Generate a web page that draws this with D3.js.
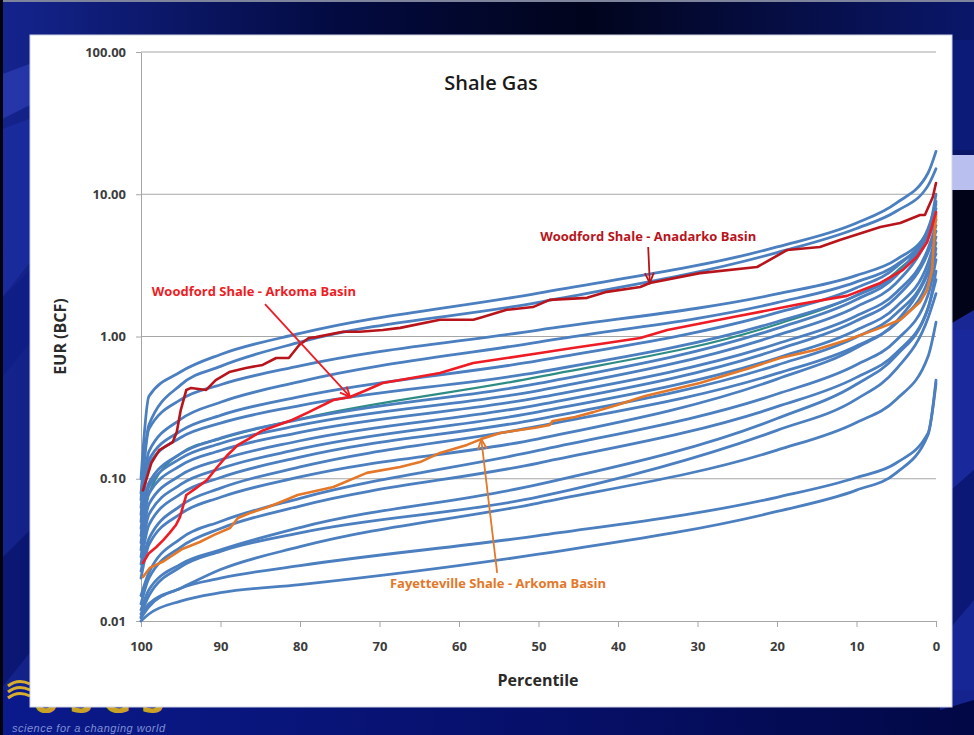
<!DOCTYPE html>
<html>
<head>
<meta charset="utf-8">
<script src="https://cdn.jsdelivr.net/npm/d3@7"></script>
<style>
  html, body { margin: 0; padding: 0; background: #050f55; }
  svg { display: block; }
</style>
</head>
<body>
<svg id="chart" width="974" height="735"></svg>
<script>
// ---- Data -----------------------------------------------------------------
// Exceedance percentile at which each modelled EUR curve is sampled
const pctGrid = [100, 99, 95, 90, 80, 50, 20, 10, 5, 1, 0];

// Modelled shale-gas plays, EUR (BCF) at each percentile of pctGrid
const blueSeries = [
  [0.1,    0.38,   0.565,  0.748,  1.05,   2.02,   4.26,   6.28,  8.67,  14.1,  20],
  [0.079,  0.24,   0.457,  0.617,  0.912,  1.74,   3.89,   5.75,  7.59,  11.5,  15.1],
  [0.071,  0.224,  0.36,   0.458,  0.621,  1.11,   1.99,   2.69,  3.47,  5.5,   10],
  [0.063,  0.156,  0.262,  0.345,  0.482,  0.914,  1.73,   2.42,  3.19,  5.36,  8.91],
  [0.056,  0.136,  0.217,  0.279,  0.378,  0.676,  1.47,   2.20,  3.08,  5.75,  8.51],
  [0.05,   0.126,  0.195,  0.246,  0.327,  0.562,  1.27,   1.94,  2.76,  5.33,  7.94],
  [0.0447, 0.0938, 0.15,   0.193,  0.261,  0.468,  1.14,   1.82,  2.67,  5.5,   7.24],
  [0.0398, 0.0881, 0.139,  0.177,  0.238,  0.417,  1.02,   1.62,  2.38,  4.9,   6.61],
  [0.0355, 0.0785, 0.124,  0.158,  0.212,  0.372,  0.889,  1.40,  2.04,  4.14,  6.03],
  [0.0316, 0.0664, 0.106,  0.136,  0.185,  0.331,  0.807,  1.29,  1.89,  3.89,  5.5],
  [0.0282, 0.0561, 0.0912, 0.118,  0.162,  0.295,  0.706,  1.11,  1.62,  3.29,  5.01],
  [0.0251, 0.0474, 0.0783, 0.102,  0.142,  0.263,  0.63,   0.993, 1.45,  2.93,  4.57],
  [0.0224, 0.0379, 0.0647, 0.0859, 0.121,  0.234,  0.55,   0.859, 1.24,  2.47,  4.17],
  [0.02,   0.0344, 0.0568, 0.0741, 0.103,  0.191,  0.502,  0.834, 1.27,  2.77,  3.8],
  [0.0151, 0.0219, 0.038,  0.0501, 0.0729, 0.158,  0.394,  0.634, 0.94,  1.96,  3.47],
  [0.0132, 0.02,   0.0331, 0.0447, 0.0643, 0.129,  0.321,  0.516, 0.766, 1.58,  2.88],
  [0.012,  0.0166, 0.0251, 0.0316, 0.0454, 0.0912, 0.265,  0.462, 0.733, 1.58,  2.51],
  [0.0112, 0.0151, 0.024,  0.0309, 0.0417, 0.0745, 0.219,  0.363, 0.589, 1.35,  2.0],
  [0.0107, 0.0132, 0.017,  0.023,  0.0333, 0.0675, 0.159,  0.249, 0.361, 0.723, 1.26],
  [0.0105, 0.0126, 0.017,  0.02,   0.0245, 0.0398, 0.0741, 0.102, 0.129, 0.209, 0.494],
  [0.01,   0.0112, 0.0138, 0.0158, 0.018,  0.0295, 0.0589, 0.0832, 0.11, 0.204, 0.468]
];
const tealSeries = [0.04, 0.079, 0.151, 0.191, 0.263, 0.52, 1.22, 1.95, 2.85, 5.5, 8.7];

// Observed well populations
const anadarkoPct = [99.75, 98.7, 97.7, 96.0, 95.5, 95.0, 94.3, 93.7, 91.8, 90.6, 88.9, 86.8, 84.7, 83.0, 81.4, 80.1, 78.9, 78.0, 74.6, 72.5, 69.6, 67.4, 62.4, 58.2, 57.0, 54.0, 50.7, 48.6, 43.9, 41.4, 37.2, 36.0, 29.7, 22.5, 18.7, 14.6, 12.1, 7.0, 4.5, 2.0, 1.4, 0.4, 0];
const anadarkoEur = [0.083, 0.129, 0.159, 0.181, 0.213, 0.304, 0.421, 0.435, 0.421, 0.494, 0.562, 0.601, 0.631, 0.706, 0.706, 0.871, 0.975, 0.99, 1.08, 1.08, 1.11, 1.15, 1.31, 1.31, 1.37, 1.54, 1.61, 1.81, 1.87, 2.06, 2.23, 2.38, 2.79, 3.08, 4.06, 4.26, 4.77, 5.88, 6.28, 7.15, 7.15, 9.57, 12.0];

const arkomaPct = [99.75, 99.0, 98.1, 97.2, 96.4, 95.6, 95.1, 94.3, 93.2, 91.7, 90.4, 89.1, 87.8, 86.5, 84.8, 83.1, 81.0, 78.9, 75.8, 73.7, 71.6, 69.6, 67.4, 62.4, 58.2, 54.0, 49.8, 45.7, 41.4, 37.2, 33.8, 25.5, 17.1, 11.2, 7.0, 4.2, 2.4, 1.1, 0.5, 0];
const arkomaEur = [0.0256, 0.030, 0.033, 0.037, 0.0416, 0.0473, 0.0538, 0.0769, 0.0848, 0.098, 0.121, 0.147, 0.173, 0.190, 0.217, 0.235, 0.259, 0.294, 0.358, 0.376, 0.421, 0.471, 0.494, 0.554, 0.652, 0.706, 0.766, 0.830, 0.900, 0.976, 1.11, 1.37, 1.69, 1.93, 2.38, 2.93, 3.62, 4.62, 5.98, 7.50];

const fayPct = [99.75, 98.9, 97.1, 94.8, 92.6, 90.8, 88.8, 87.8, 86.3, 84.0, 82.1, 80.3, 75.8, 71.6, 67.4, 64.9, 62.4, 59.0, 57.2, 54.8, 50.4, 48.6, 48.2, 45.4, 43.1, 40.1, 36.6, 29.7, 23.4, 19.6, 15.2, 11.2, 7.0, 4.5, 2.0, 1.1, 0.5, 0.25, 0];
const fayEur = [0.0204, 0.0236, 0.0264, 0.0321, 0.0359, 0.0403, 0.0451, 0.0530, 0.0574, 0.0633, 0.0698, 0.0769, 0.0875, 0.110, 0.121, 0.131, 0.152, 0.173, 0.190, 0.210, 0.228, 0.239, 0.255, 0.272, 0.294, 0.330, 0.382, 0.471, 0.601, 0.706, 0.803, 0.945, 1.15, 1.31, 1.75, 2.13, 2.93, 4.77, 7.03];

const xTicks = [100, 90, 80, 70, 60, 50, 40, 30, 20, 10, 0];
const yTicks = [0.01, 0.1, 1, 10, 100];

// Callouts: label anchor, arrow start and arrow tip in data units
const callouts = [
  { text: "Woodford Shale - Anadarko Basin", color: "#b8141c",
    label: [36.2, 5.09], from: [36.2, 4.26], to: [36.0, 2.38] },
  { text: "Woodford Shale - Arkoma Basin", color: "#ee1c24",
    label: [85.8, 2.09], from: [84.4, 1.69], to: [73.7, 0.376] },
  { text: "Fayetteville Shale - Arkoma Basin", color: "#e3782a",
    label: [55.1, 0.0185], from: [55.2, 0.0218], to: [57.2, 0.190] }
];

// ---- Slide backdrop ---------------------------------------------------------
const svg = d3.select("#chart");
const defs = svg.append("defs");
const bgGrad = defs.append("linearGradient").attr("id", "bg").attr("x1", 0).attr("x2", 1).attr("y1", 0).attr("y2", 0);
bgGrad.append("stop").attr("offset", "0%").attr("stop-color", "#14248e");
bgGrad.append("stop").attr("offset", "35%").attr("stop-color", "#030a40");
bgGrad.append("stop").attr("offset", "60%").attr("stop-color", "#01041c");
bgGrad.append("stop").attr("offset", "100%").attr("stop-color", "#0a176a");
svg.append("rect").attr("width", 974).attr("height", 735).attr("fill", "url(#bg)");

const botGrad = defs.append("linearGradient").attr("id", "bot").attr("x1", 0).attr("x2", 1).attr("y1", 0).attr("y2", 0);
botGrad.append("stop").attr("offset", "0%").attr("stop-color", "#0b1a8c");
botGrad.append("stop").attr("offset", "55%").attr("stop-color", "#06106a");
botGrad.append("stop").attr("offset", "100%").attr("stop-color", "#020845");
svg.append("rect").attr("y", 690).attr("width", 974).attr("height", 45).attr("fill", "url(#bot)");

// diagonal bands peeking out on both sides of the panel
const bands = svg.append("g");
[
  { pts: [[0, 75], [40, 60], [40, 100], [0, 120]], fill: "#2b3bb0", op: 0.8 },
  { pts: [[0, 130], [40, 115], [40, 250], [0, 300]], fill: "#1c2da0", op: 0.8 },
  { pts: [[0, 300], [40, 260], [40, 330], [0, 380]], fill: "#101e86", op: 0.9 },
  { pts: [[0, 560], [40, 520], [40, 640], [0, 690]], fill: "#0a1670", op: 0.9 },
  { pts: [[940, 40], [974, 40], [974, 150], [940, 150]], fill: "#0c1a78", op: 1 },
  { pts: [[940, 155], [974, 155], [974, 190], [940, 190]], fill: "#b9bfef", op: 1 },
  { pts: [[940, 190], [974, 190], [974, 330], [940, 330]], fill: "#010318", op: 1 },
  { pts: [[940, 330], [974, 310], [974, 470], [940, 500]], fill: "#1b2ba2", op: 0.9 },
  { pts: [[940, 500], [974, 470], [974, 600], [940, 640]], fill: "#0c1878", op: 0.9 },
  { pts: [[940, 640], [974, 600], [974, 700], [940, 710]], fill: "#1a2aa0", op: 0.8 }
].forEach(b => {
  bands.append("polygon").attr("points", b.pts.map(p => p.join(",")).join(" "))
    .attr("fill", b.fill).attr("opacity", b.op);
});
svg.append("rect").attr("width", 974).attr("height", 2).attr("fill", "#7d849c");
svg.append("rect").attr("width", 3).attr("height", 735).attr("fill", "#02030c");

// Agency logo, partly tucked under the chart panel
const logo = svg.append("g");
[0, 6, 12].forEach(o => {
  logo.append("path")
    .attr("d", `M8,${686 + o} Q18,${678 + o} 30,${684 + o}`)
    .attr("fill", "none").attr("stroke", "#d6ad2c").attr("stroke-width", 3);
});
logo.append("text").attr("x", 32).attr("y", 713)
  .attr("font-family", "DejaVu Sans").attr("font-weight", "bold")
  .attr("font-size", 34).attr("textLength", 133).attr("fill", "#c9a227")
  .text("USGS");
svg.append("text").attr("x", 12).attr("y", 732)
  .attr("font-family", "Liberation Sans").attr("font-style", "italic")
  .attr("font-size", 11).attr("textLength", 153).attr("fill", "#7f8fd6")
  .text("science for a changing world");

// White chart panel
svg.append("rect").attr("x", 30).attr("y", 35).attr("width", 922).attr("height", 672)
  .attr("fill", "#ffffff").attr("stroke", "#d0d4e4").attr("stroke-width", 1);

// ---- Chart -----------------------------------------------------------------
const x = d3.scaleLinear().domain([100, 0]).range([141, 936]);
const y = d3.scaleLog().domain([0.01, 100]).range([621, 52]);
const fontFam = "'Open Sans', 'DejaVu Sans', sans-serif";

const grid = svg.append("g");
grid.selectAll("line").data(yTicks.filter(v => v > 0.01)).join("line")
  .attr("x1", x(100)).attr("x2", x(0))
  .attr("y1", d => y(d)).attr("y2", d => y(d))
  .attr("stroke", "#a6a6a6").attr("stroke-width", 1);

const yAxis = svg.append("g").attr("transform", `translate(${x(100)},0)`)
  .call(d3.axisLeft(y).tickValues(yTicks).tickFormat(d3.format(".2f"))
    .tickSize(5).tickSizeOuter(0).tickPadding(10));
const xAxis = svg.append("g").attr("transform", `translate(0,${y(0.01)})`)
  .call(d3.axisBottom(x).tickValues(xTicks).tickFormat(d3.format("d"))
    .tickSize(6).tickSizeOuter(0).tickPadding(15));
[yAxis, xAxis].forEach(ax => {
  ax.select(".domain").attr("stroke", "#a6a6a6");
  ax.selectAll(".tick line").attr("stroke", "#a6a6a6");
  ax.selectAll(".tick text").attr("font-family", fontFam).attr("font-weight", 700)
    .attr("font-size", 13).attr("fill", "#3c3c3c");
});

// Curves
const smooth = d3.line().x(d => x(d[0])).y(d => y(d[1])).curve(d3.curveMonotoneX);
const jagged = d3.line().x(d => x(d[0])).y(d => y(d[1])).curve(d3.curveLinear);
const plot = svg.append("g").attr("fill", "none")
  .attr("stroke-linejoin", "round").attr("stroke-linecap", "round");

// teal play sits underneath the blue family and only shows through in places
plot.append("path").attr("d", smooth(pctGrid.map((p, i) => [p, tealSeries[i]])))
  .attr("stroke", "#2f8c85").attr("stroke-width", 2.2);

plot.selectAll("path.play").data(blueSeries).join("path").attr("class", "play")
  .attr("d", s => smooth(pctGrid.map((p, i) => [p, s[i]])))
  .attr("stroke", "#4b7fbf").attr("stroke-width", 2.8);

plot.append("path").attr("d", jagged(fayPct.map((p, i) => [p, fayEur[i]])))
  .attr("stroke", "#e3782a").attr("stroke-width", 2.6);
plot.append("path").attr("d", jagged(arkomaPct.map((p, i) => [p, arkomaEur[i]])))
  .attr("stroke", "#ee1c24").attr("stroke-width", 2.6);
plot.append("path").attr("d", jagged(anadarkoPct.map((p, i) => [p, anadarkoEur[i]])))
  .attr("stroke", "#b8141c").attr("stroke-width", 2.6);

// Callouts with arrows
const notes = svg.append("g");
callouts.forEach(c => {
  const x1 = x(c.from[0]), y1 = y(c.from[1]);
  const x2 = x(c.to[0]), y2 = y(c.to[1]);
  notes.append("line").attr("x1", x1).attr("y1", y1).attr("x2", x2).attr("y2", y2)
    .attr("stroke", c.color).attr("stroke-width", 1.8);
  const ang = Math.atan2(y2 - y1, x2 - x1), L = 11, a = 0.42;
  const p1 = [x2 - L * Math.cos(ang - a), y2 - L * Math.sin(ang - a)];
  const p2 = [x2 - L * Math.cos(ang + a), y2 - L * Math.sin(ang + a)];
  notes.append("path").attr("d", `M${p1[0]},${p1[1]}L${x2},${y2}L${p2[0]},${p2[1]}`)
    .attr("fill", "none").attr("stroke", c.color).attr("stroke-width", 1.8);
  notes.append("text").attr("x", x(c.label[0])).attr("y", y(c.label[1]))
    .attr("dy", "0.35em").attr("text-anchor", "middle")
    .attr("font-family", fontFam).attr("font-weight", 700).attr("font-size", 13)
    .attr("fill", c.color).text(c.text);
});

// Titles
svg.append("text").attr("x", 491).attr("y", 90).attr("text-anchor", "middle")
  .attr("font-family", fontFam).attr("font-weight", 600).attr("font-size", 20)
  .attr("fill", "#1a1a1a").text("Shale Gas");
svg.append("text").attr("x", 538).attr("y", 686).attr("text-anchor", "middle")
  .attr("font-family", fontFam).attr("font-weight", 700).attr("font-size", 16)
  .attr("fill", "#2a2a2a").text("Percentile");
svg.append("text").attr("transform", `translate(66,${y(1)}) rotate(-90)`)
  .attr("text-anchor", "middle")
  .attr("font-family", fontFam).attr("font-weight", 700).attr("font-size", 16)
  .attr("fill", "#2a2a2a").text("EUR (BCF)");
</script>
</body>
</html>
